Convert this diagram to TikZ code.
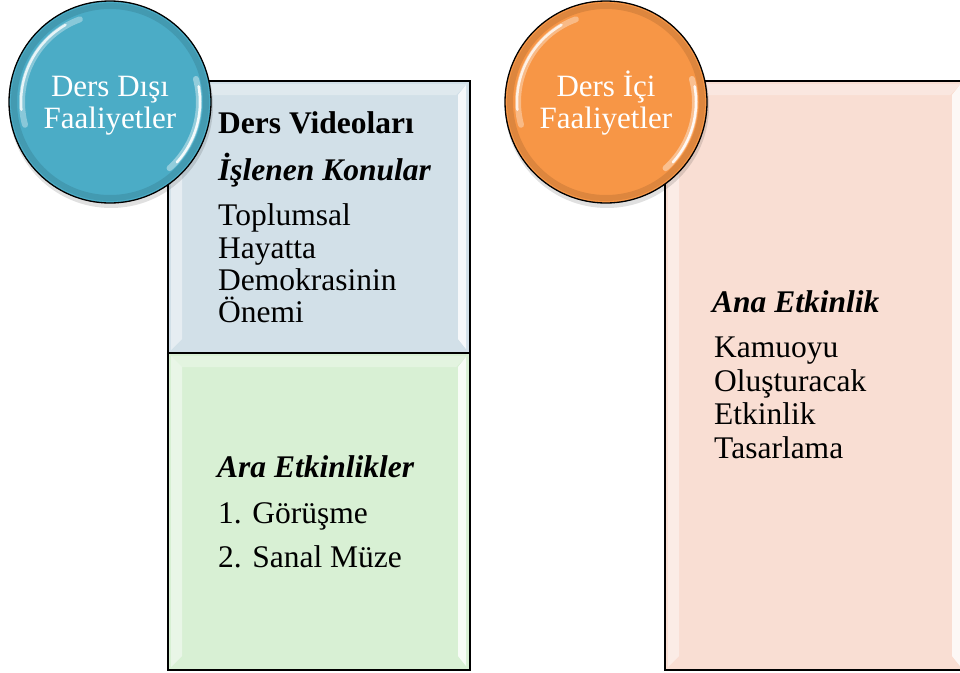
\documentclass[tikz,border=0pt]{standalone}
\usepackage{fontspec}
\setmainfont{Liberation Serif}
\definecolor{bluebox}{RGB}{210,224,232}
\definecolor{greenbox}{RGB}{216,240,212}
\definecolor{pinkbox}{RGB}{249,222,211}
\definecolor{bluecirc}{RGB}{75,172,198}
\definecolor{orangecirc}{RGB}{247,150,70}
\tikzset{
  panel/.style={draw=black, line width=1.6pt},
  disc/.style={circle, draw=black, line width=1.3pt, minimum size=202pt, inner sep=0pt},
  body/.style={anchor=base west, inner sep=0pt, font=\fontsize{31.5}{33}\selectfont},
  head/.style={body, font=\fontsize{31.5}{33}\selectfont\bfseries\itshape},
  disctext/.style={anchor=base, inner sep=0pt, text=white, font=\fontsize{31}{33}\selectfont},
  bevelL/.style={fill=white, opacity=0.45, draw=none},
  bevelR/.style={fill=white, opacity=0.8, draw=none},
}
\begin{document}
\begin{tikzpicture}[x=1pt,y=-1pt]
\useasboundingbox (0,0) rectangle (960,672);
% panels
\fill[bluebox] (168,81) rectangle (470,353);
\fill[greenbox] (168,353) rectangle (470,670);
\fill[pinkbox] (665,81) rectangle (964,670);
% bevels
\foreach \a/\b/\c/\d in {168/81/470/353, 168/353/470/670, 665/81/964/670}{
  \fill[bevelL] (\a+3,\b+3) -- (\a+14,\b+14) -- (\a+14,\d-14) -- (\a+3,\d-3) -- cycle;
  \fill[white, opacity=0.3] (\a+3,\b+3) -- (\c-3,\b+3) -- (\c-14,\b+14) -- (\a+14,\b+14) -- cycle;
  \fill[bevelR] (\c-4,\b+4) -- (\c-12,\b+14) -- (\c-12,\d-14) -- (\c-4,\d-4) -- cycle;
}
\draw[panel] (168,81) rectangle (470,353);
\draw[panel] (168,353) rectangle (470,670);
\draw[panel] (665,81) rectangle (964,670);
% circle shadows
\fill[black, opacity=0.12] (111,106) circle (102);
\fill[black, opacity=0.12] (607,106) circle (102);
% circles
\node[disc, fill=bluecirc] (c1) at (110,102) {};
\node[disc, fill=orangecirc] (c2) at (606,102) {};
% highlights (y axis points down: angles are mirrored)
\foreach \cx in {110,606}{
  \draw[black, opacity=0.10, line width=6pt] (\cx,102) circle (96);
  \draw[white, opacity=0.35, line width=6pt, line cap=round] (\cx,102) ++(-195:88) arc[start angle=-195, end angle=-110, radius=88];
  \draw[white, opacity=0.8, line width=2.5pt, line cap=round] (\cx,102) ++(-185:89) arc[start angle=-185, end angle=-120, radius=89];
  \draw[white, opacity=0.4, line width=6pt, line cap=round] (\cx,102) ++(-15:89) arc[start angle=-15, end angle=48, radius=89];
  \draw[white, opacity=0.9, line width=2.5pt, line cap=round] (\cx,102) ++(-10:90) arc[start angle=-10, end angle=42, radius=90];
}
\node[disctext] (c1a) at (110,96) {Ders Dışı};
\node[disctext] (c1b) at (110,128) {Faaliyetler};
\node[disctext] (c2a) at (606,96) {Ders İçi};
\node[disctext] (c2b) at (606,128) {Faaliyetler};
% blue panel text
\node[body, font=\fontsize{31.5}{33}\selectfont\bfseries] (b1) at (218,133) {Ders Videoları};
\node[head] (b2) at (218,180) {İşlenen Konular};
\node[body] (b3) at (218,225) {Toplumsal};
\node[body] (b4) at (218,258) {Hayatta};
\node[body] (b5) at (218,290) {Demokrasinin};
\node[body] (b6) at (218,322) {Önemi};
% green panel text
\node[head] (g1) at (217,477) {Ara Etkinlikler};
\node[body] (g2) at (218,523) {1. Görüşme};
\node[body] (g3) at (218,567) {2. Sanal Müze};
% pink panel text
\node[head] (p1) at (712,312) {Ana Etkinlik};
\node[body] (p2) at (714,357) {Kamuoyu};
\node[body] (p3) at (714,391) {Oluşturacak};
\node[body] (p4) at (714,424) {Etkinlik};
\node[body] (p5) at (714,458) {Tasarlama};
\end{tikzpicture}
\end{document}
